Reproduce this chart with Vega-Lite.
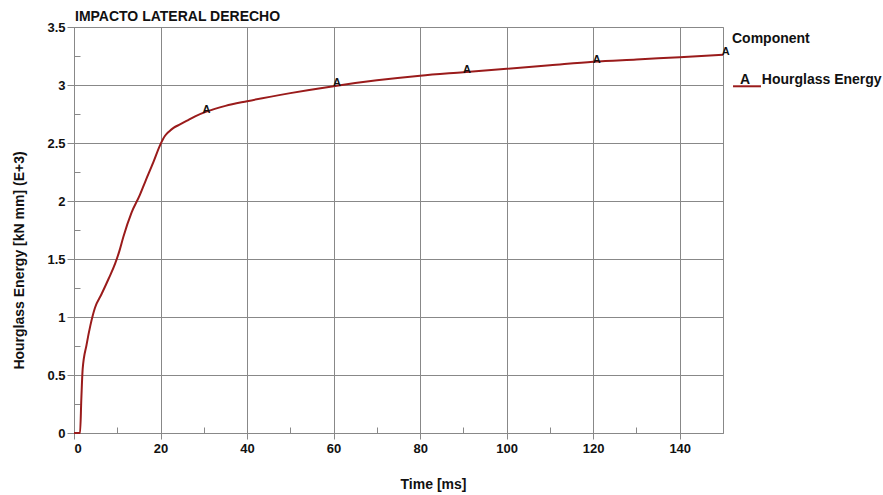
{
  "$schema": "https://vega.github.io/schema/vega-lite/v6.json",
  "width": 649,
  "height": 406,
  "autosize": "none",
  "padding": {"left": 74, "top": 27, "right": 160, "bottom": 62},
  "background": "white",
  "config": {
    "font": "Liberation Sans",
    "view": {"stroke": "#888888", "strokeWidth": 1}
  },
  "title": {
    "text": "IMPACTO LATERAL DERECHO",
    "anchor": "start",
    "frame": "group",
    "fontSize": 14,
    "fontWeight": "bold",
    "color": "#111111",
    "offset": -3,
    "dx": 1
  },
  "datasets": {
    "curve": [
      {"t": 0, "e": 0, "component": "Hourglass Energy"},
      {"t": 1.4, "e": 0, "component": "Hourglass Energy"},
      {"t": 1.7, "e": 0.3, "component": "Hourglass Energy"},
      {"t": 2.0, "e": 0.55, "component": "Hourglass Energy"},
      {"t": 2.9, "e": 0.76, "component": "Hourglass Energy"},
      {"t": 3.8, "e": 0.93, "component": "Hourglass Energy"},
      {"t": 4.85, "e": 1.08, "component": "Hourglass Energy"},
      {"t": 6.4, "e": 1.2, "component": "Hourglass Energy"},
      {"t": 8, "e": 1.33, "component": "Hourglass Energy"},
      {"t": 9.5, "e": 1.46, "component": "Hourglass Energy"},
      {"t": 10.5, "e": 1.57, "component": "Hourglass Energy"},
      {"t": 11.4, "e": 1.69, "component": "Hourglass Energy"},
      {"t": 13.3, "e": 1.9, "component": "Hourglass Energy"},
      {"t": 15.2, "e": 2.05, "component": "Hourglass Energy"},
      {"t": 16.5, "e": 2.17, "component": "Hourglass Energy"},
      {"t": 18.3, "e": 2.33, "component": "Hourglass Energy"},
      {"t": 20, "e": 2.49, "component": "Hourglass Energy"},
      {"t": 21, "e": 2.56, "component": "Hourglass Energy"},
      {"t": 22, "e": 2.6, "component": "Hourglass Energy"},
      {"t": 23, "e": 2.63, "component": "Hourglass Energy"},
      {"t": 24.5, "e": 2.66, "component": "Hourglass Energy"},
      {"t": 26, "e": 2.69, "component": "Hourglass Energy"},
      {"t": 28, "e": 2.73, "component": "Hourglass Energy"},
      {"t": 30.6, "e": 2.77, "component": "Hourglass Energy"},
      {"t": 35, "e": 2.82, "component": "Hourglass Energy"},
      {"t": 40, "e": 2.86, "component": "Hourglass Energy"},
      {"t": 50, "e": 2.93, "component": "Hourglass Energy"},
      {"t": 60, "e": 2.99, "component": "Hourglass Energy"},
      {"t": 70, "e": 3.04, "component": "Hourglass Energy"},
      {"t": 80, "e": 3.08, "component": "Hourglass Energy"},
      {"t": 90, "e": 3.11, "component": "Hourglass Energy"},
      {"t": 100, "e": 3.14, "component": "Hourglass Energy"},
      {"t": 110, "e": 3.17, "component": "Hourglass Energy"},
      {"t": 120, "e": 3.2, "component": "Hourglass Energy"},
      {"t": 130, "e": 3.22, "component": "Hourglass Energy"},
      {"t": 140, "e": 3.24, "component": "Hourglass Energy"},
      {"t": 150, "e": 3.26, "component": "Hourglass Energy"}
    ],
    "markers": [
      {"t": 30.6, "e": 2.77, "label": "A"},
      {"t": 60.8, "e": 3.0, "label": "A"},
      {"t": 90.8, "e": 3.11, "label": "A"},
      {"t": 120.8, "e": 3.2, "label": "A"},
      {"t": 150.6, "e": 3.27, "label": "A"}
    ]
  },
  "layer": [
    {
      "data": {"name": "curve"},
      "mark": {"type": "line", "strokeWidth": 2, "clip": false, "interpolate": "monotone"},
      "encoding": {
        "x": {
          "field": "t", "type": "quantitative",
          "scale": {"domain": [0, 150], "nice": false, "zero": false},
          "axis": {
            "orient": "bottom",
            "title": "Time [ms]",
            "titleX": 359,
            "values": [0, 20, 40, 60, 80, 100, 120, 140],
            "grid": true, "gridColor": "#888888", "gridOpacity": 1, "gridWidth": 1,
            "domainColor": "#888888", "tickColor": "#888888",
            "tickSize": 6, "labelPadding": 3,
            "labelFont": "Liberation Sans", "labelFontSize": 13, "labelFontWeight": "bold", "labelColor": "#111111",
            "titleFont": "Liberation Sans", "titleFontSize": 14, "titleFontWeight": "bold", "titleColor": "#111111",
            "titlePadding": 22
          }
        },
        "y": {
          "field": "e", "type": "quantitative",
          "scale": {"domain": [0, 3.5], "nice": false},
          "axis": {
            "orient": "left",
            "title": "Hourglass Energy [kN mm] (E+3)",
            "titleY": 233,
            "values": [0, 0.5, 1, 1.5, 2, 2.5, 3, 3.5],
            "labelExpr": "datum.value == 0 ? '0' : format(datum.value, '.1~f')",
            "grid": true, "gridColor": "#888888", "gridOpacity": 1, "gridWidth": 1,
            "domainColor": "#888888", "tickColor": "#888888",
            "tickSize": 7, "labelPadding": 2,
            "labelFont": "Liberation Sans", "labelFontSize": 13, "labelFontWeight": "bold", "labelColor": "#111111",
            "titleFont": "Liberation Sans", "titleFontSize": 14, "titleFontWeight": "bold", "titleColor": "#111111",
            "titlePadding": 20
          }
        },
        "color": {
          "field": "component", "type": "nominal",
          "scale": {"range": ["#9a1b1b"]},
          "legend": {
            "orient": "right",
            "title": "Component",
            "offset": 0,
            "padding": 5,
            "titleFont": "Liberation Sans", "titleFontSize": 14, "titleFontWeight": "bold", "titleColor": "#111111",
            "titlePadding": 19,
            "labelFont": "Liberation Sans", "labelFontSize": 14, "labelFontWeight": "bold", "labelColor": "#111111",
            "labelExpr": "'A\u00a0\u00a0\u00a0' + datum.label",
            "symbolType": "M-1,0.45H1",
            "symbolSize": 780,
            "symbolStrokeWidth": 2,
            "labelOffset": -22
          }
        }
      }
    },
    {
      "data": {"name": "markers"},
      "mark": {"type": "text", "fontSize": 11, "fontWeight": "bold", "color": "#111111", "dy": -2, "font": "Liberation Sans", "clip": false},
      "encoding": {
        "x": {
          "field": "t", "type": "quantitative",
          "axis": {
            "orient": "bottom", "title": null, "labels": false, "grid": false, "domain": false,
            "values": [10, 30, 50, 70, 90, 110, 130], "tickSize": -6, "tickColor": "#888888"
          }
        },
        "y": {
          "field": "e", "type": "quantitative",
          "axis": {
            "orient": "left", "title": null, "labels": false, "grid": false, "domain": false,
            "values": [0.25, 0.75, 1.25, 1.75, 2.25, 2.75, 3.25], "tickSize": -6, "tickColor": "#888888"
          }
        },
        "text": {"field": "label"}
      }
    }
  ],
  "resolve": {"axis": {"x": "independent", "y": "independent"}}
}
